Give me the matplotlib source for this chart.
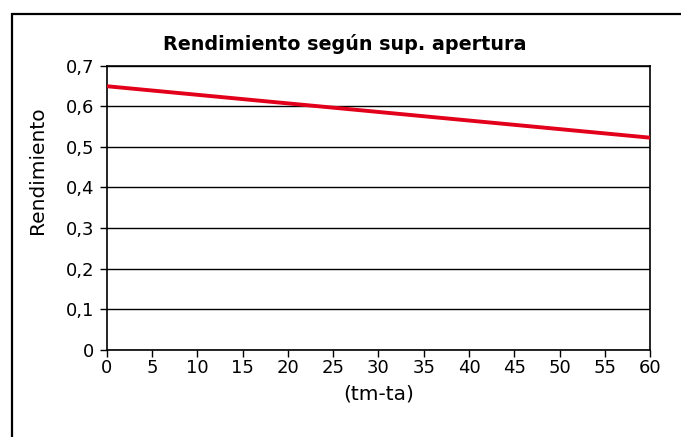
import matplotlib
matplotlib.use('Agg')
from matplotlib import pyplot as plt
from matplotlib.patches import Rectangle

plt.rcParams['font.family'] = ['DejaVu Sans']

# rendimiento frente a (tm-ta)
dt = [0, 60]
rendimiento = [0.65, 0.523]

x_ticks = list(range(0, 61, 5))
y_ticks = [0, 0.1, 0.2, 0.3, 0.4, 0.5, 0.6, 0.7]
y_labels = ['0', '0,1', '0,2', '0,3', '0,4', '0,5', '0,6', '0,7']

fig = plt.figure(figsize=(6.81, 4.37), dpi=100)
ax = fig.add_axes([0.1571, 0.2002, 0.7974, 0.6488])

# marco exterior del gráfico
fig.patches.append(Rectangle((12 / 681, -0.05), 1.2, (437 - 14) / 437 + 0.05,
                             transform=fig.transFigure, fill=False,
                             edgecolor='black', linewidth=1.6))

ax.plot(dt, rendimiento, color='#E3001B', linewidth=2.8, solid_capstyle='butt', zorder=3)

ax.set_xlim(0, 60)
ax.set_ylim(0, 0.7)
ax.set_xticks(x_ticks)
ax.set_yticks(y_ticks)
ax.set_yticklabels(y_labels)
ax.tick_params(axis='both', direction='out', length=5, width=1, labelsize=13, color='black')
ax.tick_params(axis='x', pad=1.5)
ax.tick_params(axis='y', pad=4)
ax.yaxis.grid(True, color='black', linewidth=1)
ax.set_axisbelow(True)
for s in ax.spines.values():
    s.set_color('black')
    s.set_linewidth(1.2)

# título centrado en el área del gráfico, no en los ejes
fig.text(345 / 681, 1 - 44 / 437, 'Rendimiento según sup. apertura', fontsize=13.8,
         fontweight='bold', ha='center', va='center')
ax.set_xlabel('(tm-ta)', fontsize=14.5, labelpad=6)
ax.set_ylabel('Rendimiento', fontsize=14.5)
ax.yaxis.set_label_coords(-0.1105, 0.633)

fig.savefig('out.png', dpi=100)
